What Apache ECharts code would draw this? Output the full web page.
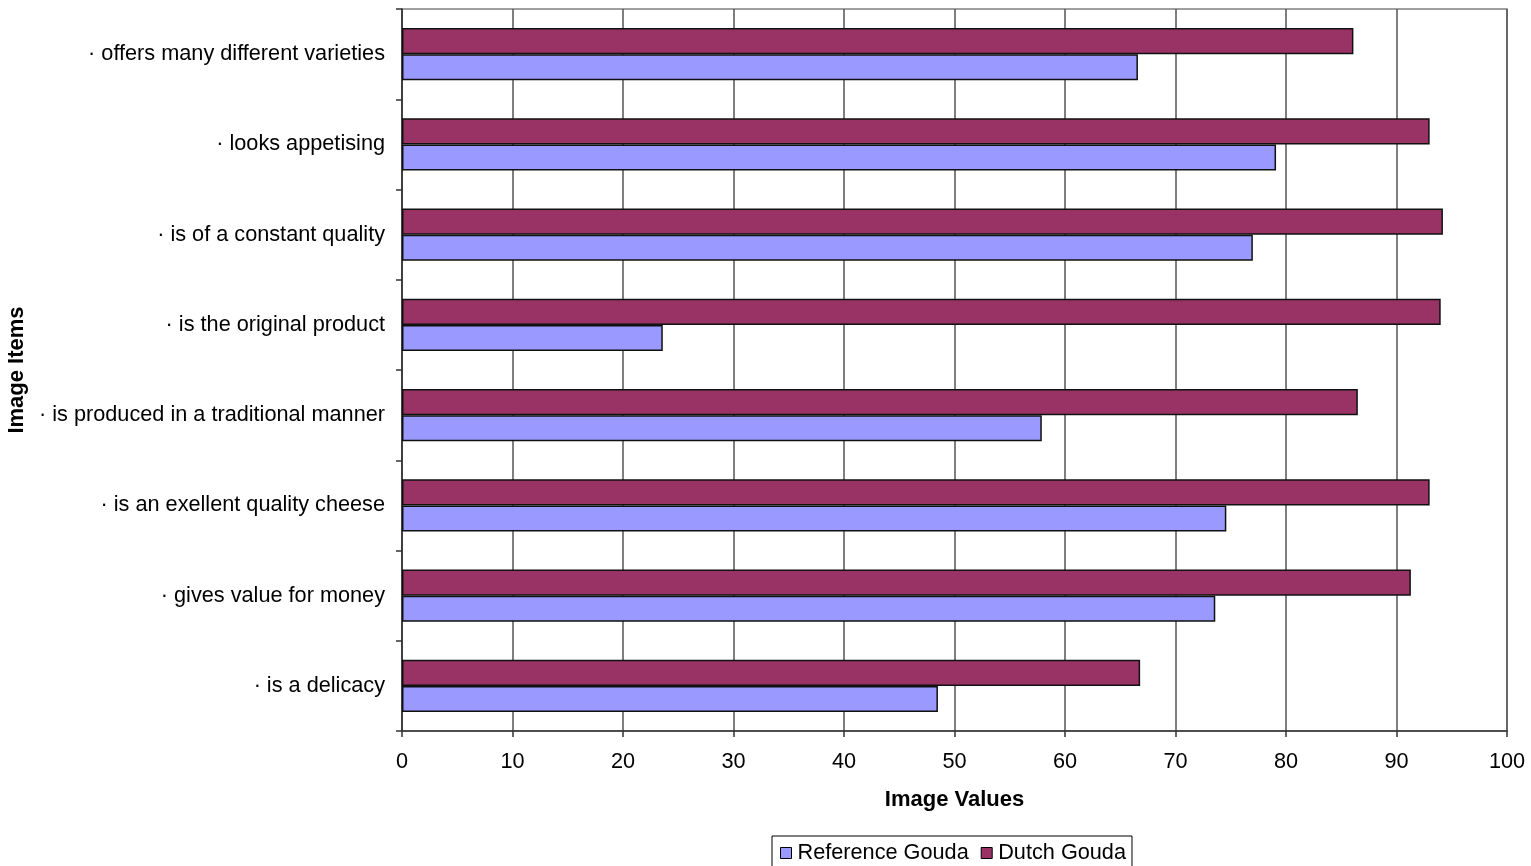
<!DOCTYPE html>
<html>
<head>
<meta charset="utf-8">
<script src="https://cdn.jsdelivr.net/npm/echarts@6/dist/echarts.min.js"></script>
<style>
html,body{margin:0;padding:0;background:#fff;}
#chart{width:1531px;height:866px;}
</style>
</head>
<body>
<div id="chart"></div>
<script>
// categories listed bottom to top
const categories = [
  '· is a delicacy',
  '· gives value for money',
  '· is an exellent quality cheese',
  '· is produced in a traditional manner',
  '· is the original product',
  '· is of a constant quality',
  '· looks appetising',
  '· offers many different varieties'
];
const referenceGouda = [48.5, 73.6, 74.6, 57.9, 23.6, 77.0, 79.1, 66.6];
const dutchGouda = [66.8, 91.3, 93.0, 86.5, 94.0, 94.2, 93.0, 86.1];
const xTicks = [0, 10, 20, 30, 40, 50, 60, 70, 80, 90, 100];

const FONT = '"Liberation Sans", Arial, sans-serif';
const FS = 21.7;
const chart = echarts.init(document.getElementById('chart'), null, {renderer: 'canvas'});
chart.setOption({
  animation: false,
  backgroundColor: '#ffffff',
  textStyle: {fontFamily: FONT},
  grid: {
    left: 402, right: 24, top: 9, bottom: 135,
    outerBoundsMode: 'none', containLabel: false,
    show: true, borderColor: '#808080', borderWidth: 1.5, backgroundColor: 'transparent'
  },
  legend: {
    data: ['Reference Gouda', 'Dutch Gouda'],
    left: 772, top: 836,
    orient: 'horizontal',
    itemWidth: 11, itemHeight: 11, itemGap: 12,
    icon: 'rect',
    padding: [6, 6, 6, 8],
    borderColor: '#000', borderWidth: 1,
    textStyle: {fontFamily: FONT, fontSize: FS, color: '#000', padding: [0, 0, 0, 1]},
    itemStyle: {borderColor: '#000', borderWidth: 1}
  },
  xAxis: {
    type: 'value',
    min: xTicks[0], max: xTicks[xTicks.length - 1], interval: 10,
    name: 'Image Values',
    nameLocation: 'middle', nameGap: 58,
    nameTextStyle: {fontFamily: FONT, fontSize: 22, fontWeight: 'bold', color: '#000'},
    axisLine: {show: true, lineStyle: {color: '#333', width: 1.5}},
    axisTick: {show: true, length: 6, inside: false, lineStyle: {color: '#333', width: 1.5}},
    axisLabel: {fontFamily: FONT, fontSize: FS, color: '#000', margin: 20},
    splitLine: {show: true, lineStyle: {color: '#555', width: 1.5}}
  },
  yAxis: {
    type: 'category',
    data: categories,
    name: 'Image Items',
    nameLocation: 'middle', nameGap: 366, nameRotate: 90,
    nameTextStyle: {fontFamily: FONT, fontSize: 22, fontWeight: 'bold', color: '#000'},
    axisLine: {show: true, lineStyle: {color: '#333', width: 1.5}},
    axisTick: {show: true, length: 6, alignWithLabel: false, lineStyle: {color: '#333', width: 1.5}},
    axisLabel: {fontFamily: FONT, fontSize: FS, color: '#000', margin: 17, padding: [3, 0, 0, 0]},
    splitLine: {show: false}
  },
  series: [
    {
      name: 'Dutch Gouda', type: 'bar', data: dutchGouda,
      barGap: '0%', barCategoryGap: '42%',
      itemStyle: {color: '#993366', borderColor: '#111', borderWidth: 1.5}
    },
    {
      name: 'Reference Gouda', type: 'bar', data: referenceGouda,
      barGap: '0%', barCategoryGap: '42%',
      itemStyle: {color: '#9999FF', borderColor: '#111', borderWidth: 1.5}
    }
  ]
});
</script>
</body>
</html>
